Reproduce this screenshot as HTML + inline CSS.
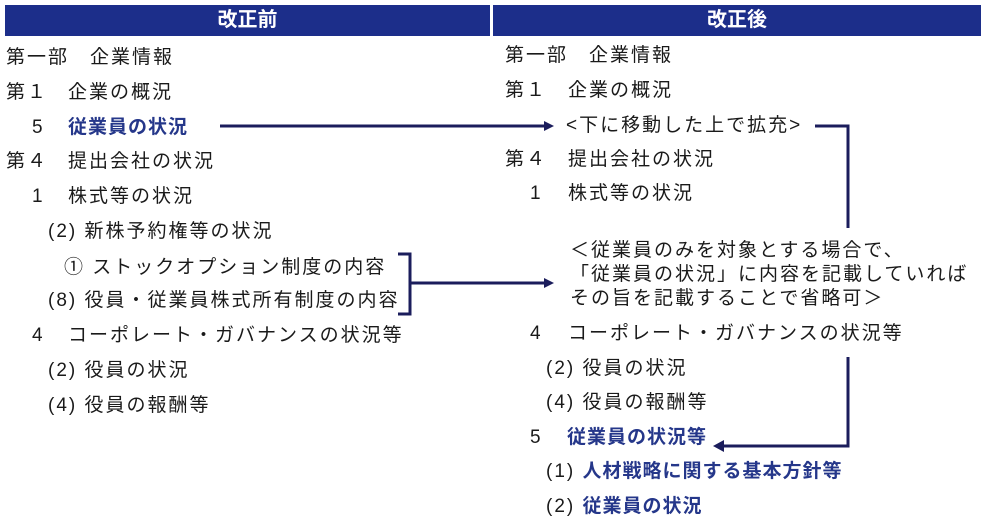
<!DOCTYPE html>
<html><head><meta charset="utf-8"><style>
body{margin:0;background:#fff;width:986px;height:528px;overflow:hidden;position:relative;font-family:"Liberation Sans","Noto Sans CJK JP",sans-serif;color:#1a1a1a;}
.h{position:absolute;top:5px;height:31px;background:#1c2e8a;color:#fff;font-weight:bold;font-size:20px;line-height:31px;text-align:center;}
.t{position:absolute;font-size:19px;letter-spacing:2px;line-height:22px;white-space:nowrap;}
.b{color:#25378a;font-weight:bold;letter-spacing:1px;}
</style></head><body>
<div class="h" style="left:5px;width:485px">改正前</div>
<div class="h" style="left:493px;width:488px">改正後</div>

<div class="t" style="left:6px;top:47px">第一部　企業情報</div>
<div class="t" style="left:6px;top:82px">第１</div><div class="t" style="left:68px;top:82px">企業の概況</div>
<div class="t" style="left:32px;top:117px">5</div><div class="t b" style="left:68px;top:117px">従業員の状況</div>
<div class="t" style="left:6px;top:151px">第４</div><div class="t" style="left:68px;top:151px">提出会社の状況</div>
<div class="t" style="left:32px;top:186px">1</div><div class="t" style="left:68px;top:186px">株式等の状況</div>
<div class="t" style="left:48px;top:221px">(2) 新株予約権等の状況</div>
<div class="t" style="left:64px;top:257px">① ストックオプション制度の内容</div>
<div class="t" style="left:48px;top:290px">(8) 役員・従業員株式所有制度の内容</div>
<div class="t" style="left:32px;top:325px">4</div><div class="t" style="left:68px;top:325px">コーポレート・ガバナンスの状況等</div>
<div class="t" style="left:48px;top:360px">(2) 役員の状況</div>
<div class="t" style="left:48px;top:395px">(4) 役員の報酬等</div>

<div class="t" style="left:505px;top:45px">第一部　企業情報</div>
<div class="t" style="left:505px;top:80px">第１</div><div class="t" style="left:568px;top:80px">企業の概況</div>
<div class="t" style="left:566px;top:115px">&lt;下に移動した上で拡充&gt;</div>
<div class="t" style="left:505px;top:149px">第４</div><div class="t" style="left:568px;top:149px">提出会社の状況</div>
<div class="t" style="left:530px;top:183px">1</div><div class="t" style="left:568px;top:183px">株式等の状況</div>
<div class="t" style="left:570px;top:239px;line-height:24px">＜従業員のみを対象とする場合で、<br>「従業員の状況」に内容を記載していれば<br>その旨を記載することで省略可＞</div>
<div class="t" style="left:530px;top:323px">4</div><div class="t" style="left:568px;top:323px">コーポレート・ガバナンスの状況等</div>
<div class="t" style="left:546px;top:358px">(2) 役員の状況</div>
<div class="t" style="left:546px;top:392px">(4) 役員の報酬等</div>
<div class="t" style="left:530px;top:427px">5</div><div class="t b" style="left:567px;top:427px">従業員の状況等</div>
<div class="t" style="left:546px;top:461px">(1) <span class="b">人材戦略に関する基本方針等</span></div>
<div class="t" style="left:546px;top:496px">(2) <span class="b">従業員の状況</span></div>

<svg width="986" height="528" style="position:absolute;left:0;top:0" fill="none" stroke="#1b1d5c" stroke-width="3">
<line x1="220" y1="126" x2="546" y2="126"/>
<polygon points="554,126 544,121 544,131" fill="#1b1d5c" stroke="none"/>
<polyline points="815,126 848,126 848,228"/>
<polyline points="398,254 410,254 410,314 398,314"/>
<line x1="410" y1="283" x2="546" y2="283"/>
<polygon points="554,283 544,278 544,288" fill="#1b1d5c" stroke="none"/>
<polyline points="848,357 848,446 722,446"/>
<polygon points="713,446 724,440 724,452" fill="#1b1d5c" stroke="none"/>
</svg>
</body></html>
